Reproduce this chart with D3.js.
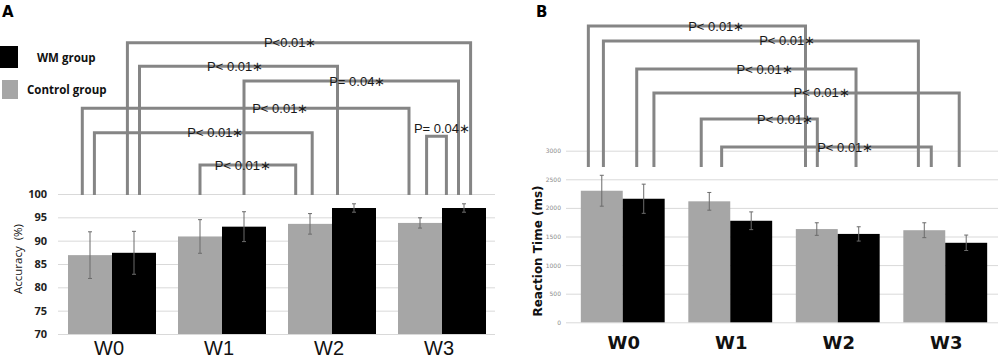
<!DOCTYPE html>
<html>
<head>
<meta charset="utf-8">
<script src="https://cdn.jsdelivr.net/npm/d3@7"></script>
<style>
  body { margin: 0; background: #fff; }
  svg { display: block; }
</style>
</head>
<body>
<svg id="chart" width="1000" height="359"></svg>
<script>
var weeks = ["W0", "W1", "W2", "W3"];
var groups = ["control", "wm"];

// panel A: accuracy (%)
var accControl = [86.9, 90.9, 93.6, 93.8];
var accControlErr = [5.0, 3.6, 2.2, 1.1];
var accWM = [87.4, 93.0, 97.0, 97.0];
var accWMErr = [4.6, 3.2, 0.9, 0.9];
var accTicks = [70, 75, 80, 85, 90, 95, 100];

// panel B: reaction time (ms)
var rtControl = [2300, 2115, 1630, 1610];
var rtControlErr = [270, 155, 110, 130];
var rtWM = [2160, 1775, 1545, 1390];
var rtWMErr = [255, 155, 125, 135];
var rtTicks = [0, 500, 1000, 1500, 2000, 2500, 3000];

// significance brackets: ends in week units (0 = centre of W0), level in axis units
var accBrackets = [
  {a: 0.14, b: 3.26, level: 132.4, lx: 1.62, label: "P<0.01\u2217"},
  {a: 0.25, b: 2.05, level: 127.4, lx: 1.12, label: "P< 0.01\u2217"},
  {a: 1.20, b: 3.15, level: 124.2, lx: 2.23, label: "P= 0.04\u2217"},
  {a: -0.27, b: 2.70, level: 118.4, lx: 1.53, label: "P< 0.01\u2217"},
  {a: -0.16, b: 1.82, level: 113.1, lx: 0.94, label: "P< 0.01\u2217"},
  {a: 0.80, b: 1.67, level: 106.2, lx: 1.19, label: "P< 0.01\u2217"},
  {a: 2.86, b: 3.04, level: 112.4, lx: 3.00, label: "P= 0.04\u2217", above: true}
];
var rtBrackets = [
  {a: -0.32, b: 1.70, level: 5180, lx: 0.87, label: "P< 0.01\u2217"},
  {a: -0.18, b: 2.75, level: 4918, lx: 1.53, label: "P< 0.01\u2217"},
  {a: 0.13, b: 2.17, level: 4428, lx: 1.32, label: "P< 0.01\u2217"},
  {a: 0.29, b: 3.13, level: 4009, lx: 1.85, label: "P< 0.01\u2217"},
  {a: 0.73, b: 1.81, level: 3554, lx: 1.51, label: "P< 0.01\u2217"},
  {a: 0.92, b: 2.87, level: 3064, lx: 2.07, label: "P< 0.01\u2217"}
];

var colors = {control: "#a6a6a6", wm: "#000000"};
var svg = d3.select("#chart");

function drawPanel(cfg) {
  var g = svg.append("g");

  var x = d3.scaleBand().domain(weeks).range(cfg.xRange)
    .paddingInner(cfg.pad).paddingOuter(cfg.pad / 2);
  var xSub = d3.scaleBand().domain(groups).range([0, x.bandwidth()]);
  var y = d3.scaleLinear().domain(cfg.yDomain).range(cfg.yRange);
  var weekPos = function (v) {
    return x(weeks[0]) + x.bandwidth() / 2 + v * x.step();
  };

  // gridlines + tick labels
  var axis = d3.axisLeft(y).tickValues(cfg.ticks)
    .tickFormat(d3.format("d"))
    .tickSize(-(cfg.gridRange[1] - cfg.gridRange[0]))
    .tickPadding(cfg.tickPad);
  var ax = g.append("g")
    .attr("transform", "translate(" + cfg.gridRange[0] + ",0)")
    .call(axis);
  ax.select(".domain").remove();
  ax.selectAll("line").attr("stroke", "#d9d9d9").attr("stroke-width", 1);
  ax.selectAll("text")
    .style("font-family", cfg.tickFont)
    .style("font-size", cfg.tickSize + "px")
    .style("font-weight", cfg.tickWeight)
    .attr("fill", cfg.tickColor);

  // bars
  var rows = [];
  weeks.forEach(function (w, i) {
    rows.push({week: w, group: "control", v: cfg.control[i], e: cfg.controlErr[i]});
    rows.push({week: w, group: "wm", v: cfg.wm[i], e: cfg.wmErr[i]});
  });

  g.selectAll("rect.bar")
    .data(rows)
    .enter()
    .append("rect")
    .attr("class", "bar")
    .attr("x", function (d) { return x(d.week) + xSub(d.group); })
    .attr("width", xSub.bandwidth())
    .attr("y", function (d) { return y(d.v); })
    .attr("height", function (d) { return y(cfg.yDomain[0]) - y(d.v); })
    .attr("fill", function (d) { return colors[d.group]; });

  // error bars
  var eb = g.selectAll("g.err")
    .data(rows)
    .enter()
    .append("g")
    .attr("class", "err")
    .attr("transform", function (d) {
      return "translate(" + (x(d.week) + xSub(d.group) + xSub.bandwidth() / 2) + ",0)";
    });
  eb.append("line")
    .attr("y1", function (d) { return y(d.v - d.e); })
    .attr("y2", function (d) { return y(d.v + d.e); })
    .attr("stroke", "#6b6b6b").attr("stroke-width", 1);
  [-1, 1].forEach(function (s) {
    eb.append("line")
      .attr("x1", -2).attr("x2", 2)
      .attr("y1", function (d) { return y(d.v + s * d.e); })
      .attr("y2", function (d) { return y(d.v + s * d.e); })
      .attr("stroke", "#6b6b6b").attr("stroke-width", 1);
  });

  // week labels
  g.selectAll("text.week")
    .data(weeks)
    .enter()
    .append("text")
    .attr("class", "week")
    .attr("x", function (d) { return x(d) + x.bandwidth() / 2 + cfg.weekShift; })
    .attr("y", cfg.weekY)
    .attr("text-anchor", "middle")
    .style("font-family", cfg.weekFont)
    .style("font-size", cfg.weekSize + "px")
    .style("font-weight", cfg.weekWeight)
    .attr("fill", "#111")
    .text(function (d) { return d; });

  // axis title
  g.append("text")
    .attr("transform", "translate(" + cfg.titleX + "," + cfg.titleY + ") rotate(-90)")
    .attr("text-anchor", "middle")
    .style("font-family", cfg.titleFont)
    .style("font-size", cfg.titleSize + "px")
    .style("font-weight", cfg.titleWeight)
    .attr("fill", "#111")
    .attr("xml:space", "preserve")
    .text(cfg.title);

  // brackets
  var br = g.selectAll("g.bracket")
    .data(cfg.brackets)
    .enter()
    .append("g")
    .attr("class", "bracket");
  br.append("path")
    .attr("d", function (d) {
      return "M" + weekPos(d.a) + "," + y(cfg.bracketFoot) +
        "V" + y(d.level) + "H" + weekPos(d.b) + "V" + y(cfg.bracketFoot);
    })
    .attr("fill", "none")
    .attr("stroke", "#858585")
    .attr("stroke-width", 3);
  br.append("text")
    .attr("x", function (d) { return weekPos(d.lx); })
    .attr("y", function (d) { return y(d.level) + (d.above ? -3 : 4.5); })
    .attr("text-anchor", "middle")
    .style("font-family", "'Liberation Sans', Arial, sans-serif")
    .style("font-size", "13px")
    .attr("fill", "#1a1a1a")
    .text(function (d) { return d.label; });

  // panel letter
  g.append("text")
    .attr("x", cfg.letterX)
    .attr("y", 17)
    .style("font-family", "'DejaVu Sans', sans-serif")
    .style("font-size", "15px")
    .style("font-weight", "bold")
    .text(cfg.letter);

  return g;
}

drawPanel({
  letter: "A", letterX: 2,
  xRange: [57, 497], pad: 0.2,
  yDomain: [70, 100], yRange: [334, 194],
  gridRange: [58, 495], ticks: accTicks, tickPad: 11,
  tickFont: "'Open Sans', sans-serif", tickSize: 11, tickWeight: "bold", tickColor: "#222",
  control: accControl, controlErr: accControlErr, wm: accWM, wmErr: accWMErr,
  weekY: 355, weekFont: "'Liberation Sans', Arial, sans-serif", weekSize: 20,
  weekWeight: "normal", weekShift: -3,
  title: "Accuracy  (%)", titleX: 22, titleY: 259,
  titleFont: "'Open Sans', sans-serif", titleSize: 11.5, titleWeight: "normal",
  brackets: accBrackets, bracketFoot: 99.8
});

drawPanel({
  letter: "B", letterX: 536,
  xRange: [569, 999], pad: 0.22,
  yDomain: [0, 3000], yRange: [322.3, 150.7],
  gridRange: [566, 998], ticks: rtTicks, tickPad: 5,
  tickFont: "'DejaVu Sans', sans-serif", tickSize: 6, tickWeight: "normal", tickColor: "#8c8c8c",
  control: rtControl, controlErr: rtControlErr, wm: rtWM, wmErr: rtWMErr,
  weekY: 349, weekFont: "'DejaVu Sans', sans-serif", weekSize: 18,
  weekWeight: "bold", weekShift: 1,
  title: "Reaction Time (ms)", titleX: 542, titleY: 251,
  titleFont: "'DejaVu Sans', sans-serif", titleSize: 12, titleWeight: "bold",
  brackets: rtBrackets, bracketFoot: 2715
});

// legend (panel A)
var legend = svg.append("g");
var legendItems = [
  {group: "wm", label: "WM group", x: 0, y: 46, w: 18, h: 22, tx: 37, ty: 62},
  {group: "control", label: "Control group", x: 2, y: 80, w: 16, h: 19, tx: 27, ty: 94}
];
legend.selectAll("rect")
  .data(legendItems)
  .enter()
  .append("rect")
  .attr("x", function (d) { return d.x; })
  .attr("y", function (d) { return d.y; })
  .attr("width", function (d) { return d.w; })
  .attr("height", function (d) { return d.h; })
  .attr("fill", function (d) { return colors[d.group]; });
legend.selectAll("text")
  .data(legendItems)
  .enter()
  .append("text")
  .attr("x", function (d) { return d.tx; })
  .attr("y", function (d) { return d.ty; })
  .style("font-family", "'Open Sans', sans-serif")
  .style("font-size", "11.5px")
  .style("font-weight", "bold")
  .attr("fill", "#111")
  .text(function (d) { return d.label; });
</script>
</body>
</html>
